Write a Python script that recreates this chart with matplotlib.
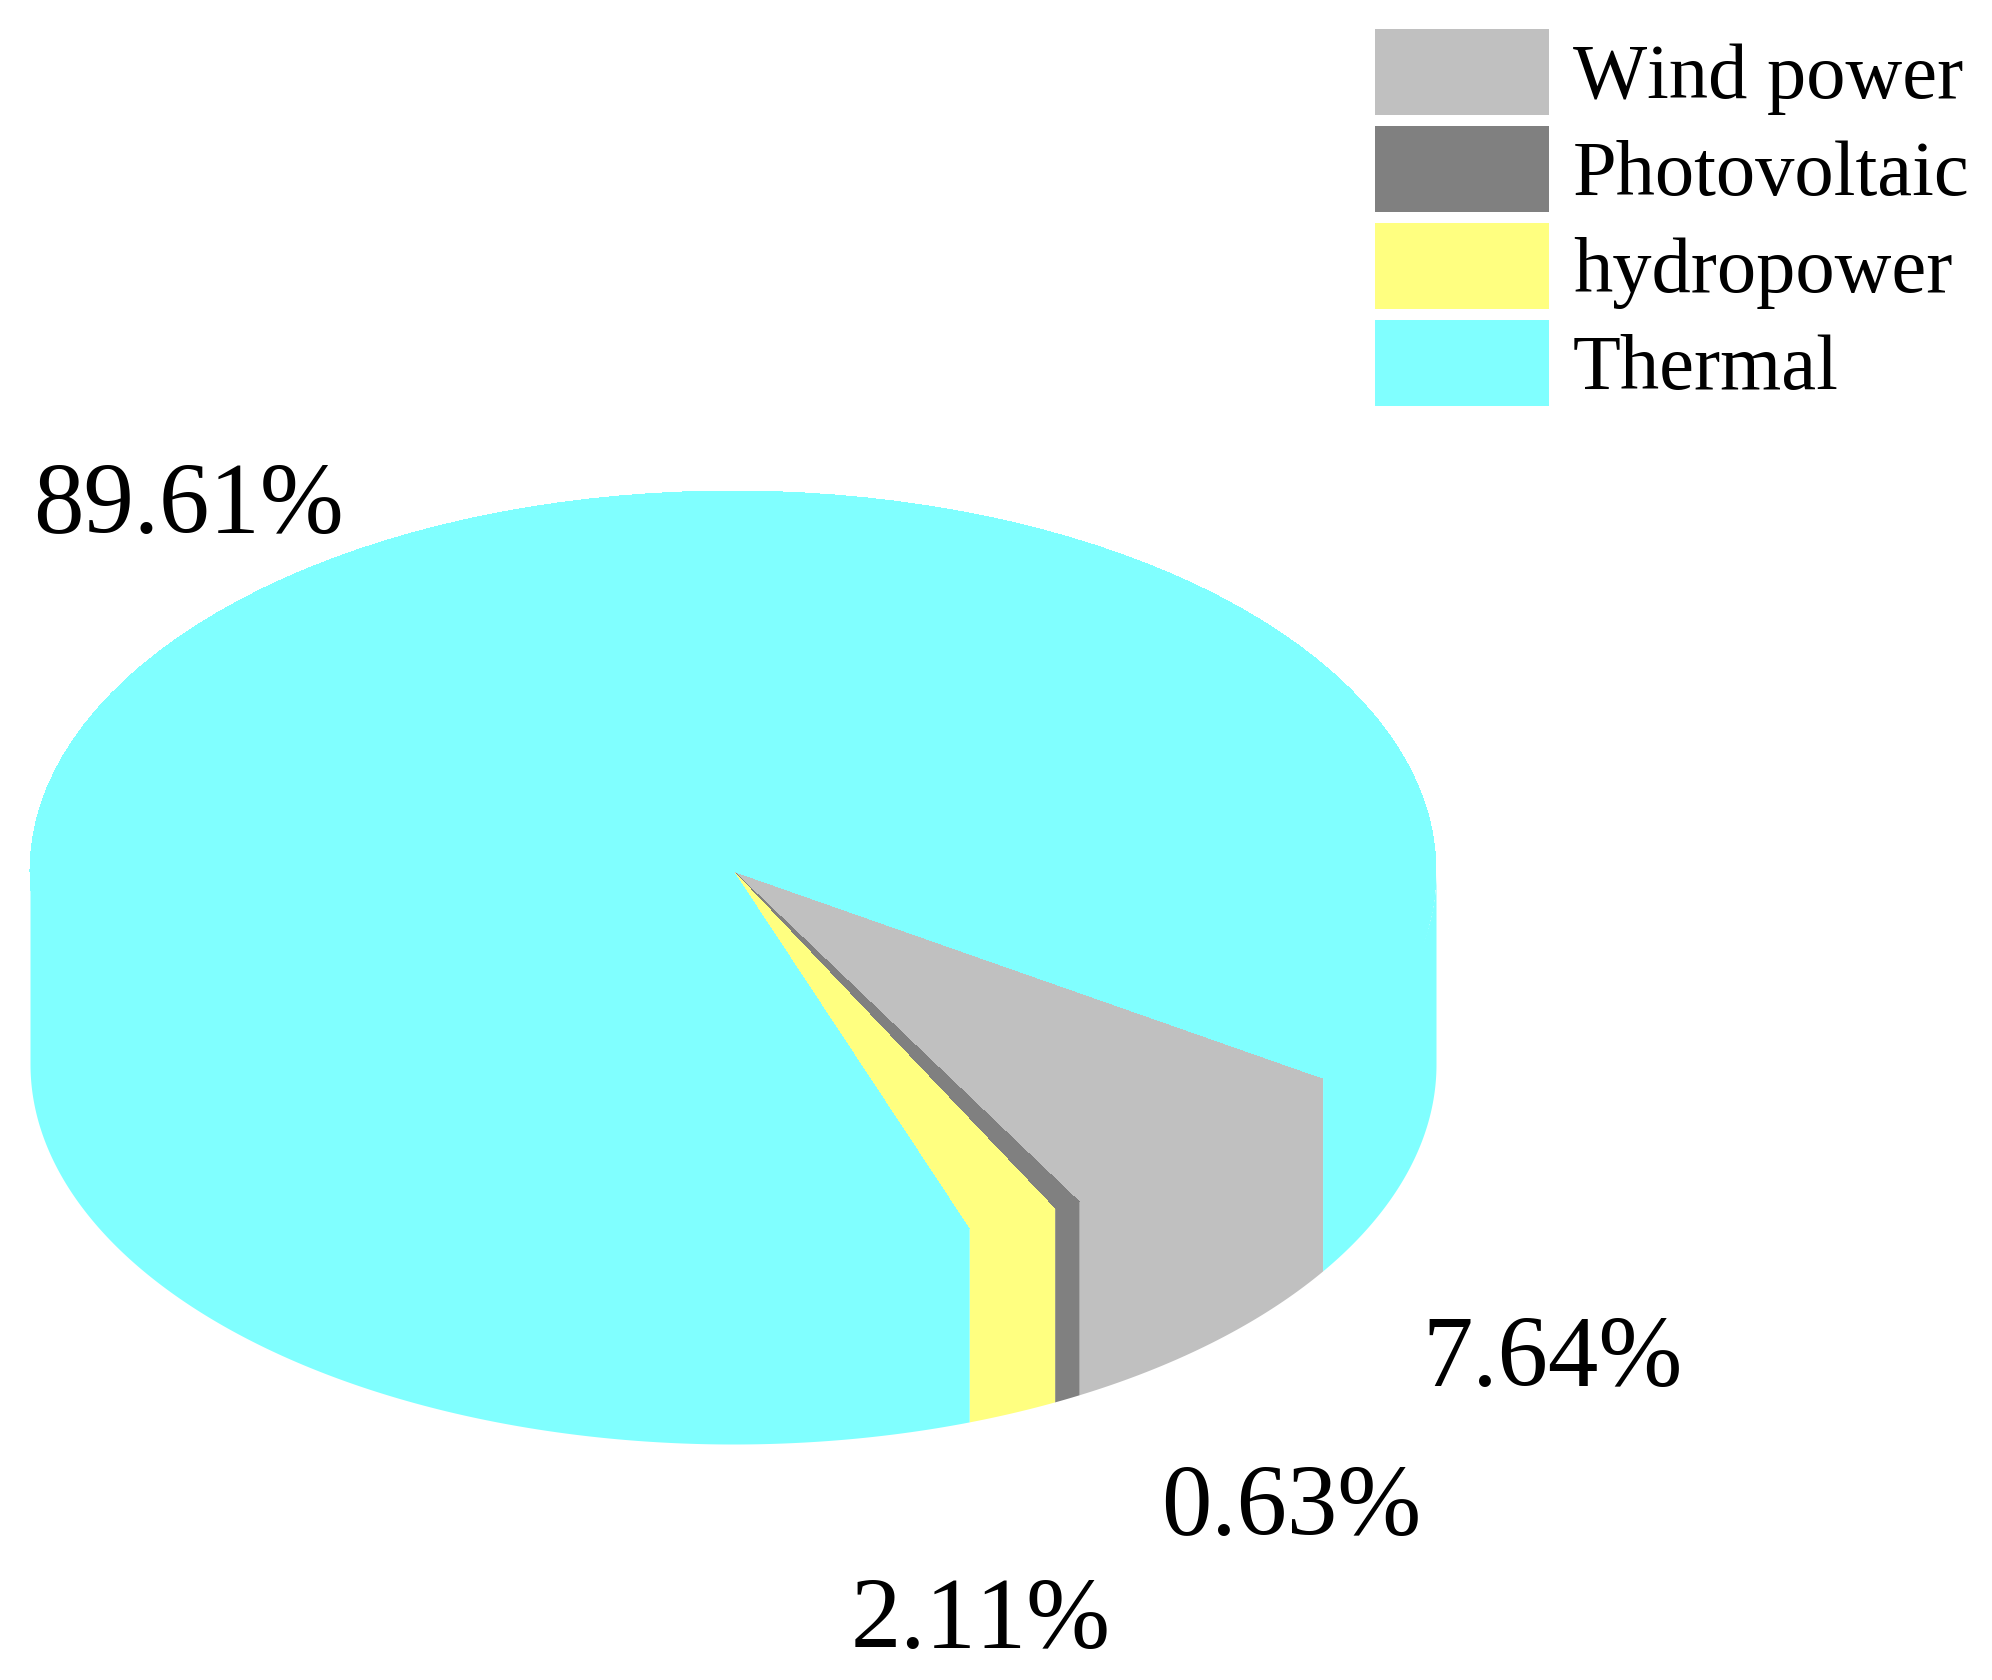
#!/usr/bin/env python3

import numpy as np
import matplotlib
matplotlib.use('Agg')
import matplotlib.pyplot as plt

labels = ['Wind power', 'Photovoltaic', 'hydropower', 'Thermal']
values = [7.64, 0.63, 2.11, 89.61]
colors = ['#C0C0C0', '#808080', '#FFFF80', '#80FFFF']
pct_labels = ['7.64%', '0.63%', '2.11%', '89.61%']

W, H = 1992, 1680
cx, cy = 733, 871
rx, ry = 703, 380
depth = 193 / ry
start = 33

plt.rcParams['font.family'] = ['Liberation Serif', 'DejaVu Serif']
plt.rcParams['text.kerning_factor'] = 6

fig = plt.figure(figsize=(W / 100, H / 100), dpi=100)
ax = fig.add_axes([0, 0, 1, 1])

# side wall first, the flat pie goes on top of it
# wall top sits a bit inside the rim so no seam shows under the pie
share = np.array(values) / sum(values) * 360
ends = start + np.cumsum(share)
begins = ends - share
for a, b, c in zip(begins, ends, colors):
    for rot in (0, 360):
        lo, hi = max(a, rot), min(b, rot + 180)
        if hi <= lo:
            continue
        t = np.radians(np.linspace(lo, hi, 200))
        ax.fill_between(np.cos(t), -np.sin(t) * 0.98, -np.sin(t) - depth,
                        color=c, linewidth=0, antialiased=False, zorder=1)

wedges, _ = ax.pie(values, colors=colors, startangle=-start, counterclock=False,
                   wedgeprops={'linewidth': 0, 'antialiased': False, 'zorder': 2})

ax.set_aspect('auto')
ax.set_xlim(-cx / rx, (W - cx) / rx)
ax.set_ylim((cy - H) / ry, cy / ry)
ax.axis('off')

pct_x = [1422, 1161, 851, 33]
pct_y = [1386, 1535, 1648, 533]
for s, x, y in zip(pct_labels, pct_x, pct_y):
    fig.text(x / W, 1 - y / H, s, fontsize=72.5, ha='left', va='baseline', color='black')

fig.legend(wedges, labels, loc='upper left', bbox_to_anchor=(1375 / W, 1 - 29 / H),
           frameon=False, fontsize=56.5, borderpad=0, borderaxespad=0,
           handlelength=2.22, handleheight=1.3, labelspacing=0.14, handletextpad=0.3)

fig.savefig('out.png', dpi=100)
